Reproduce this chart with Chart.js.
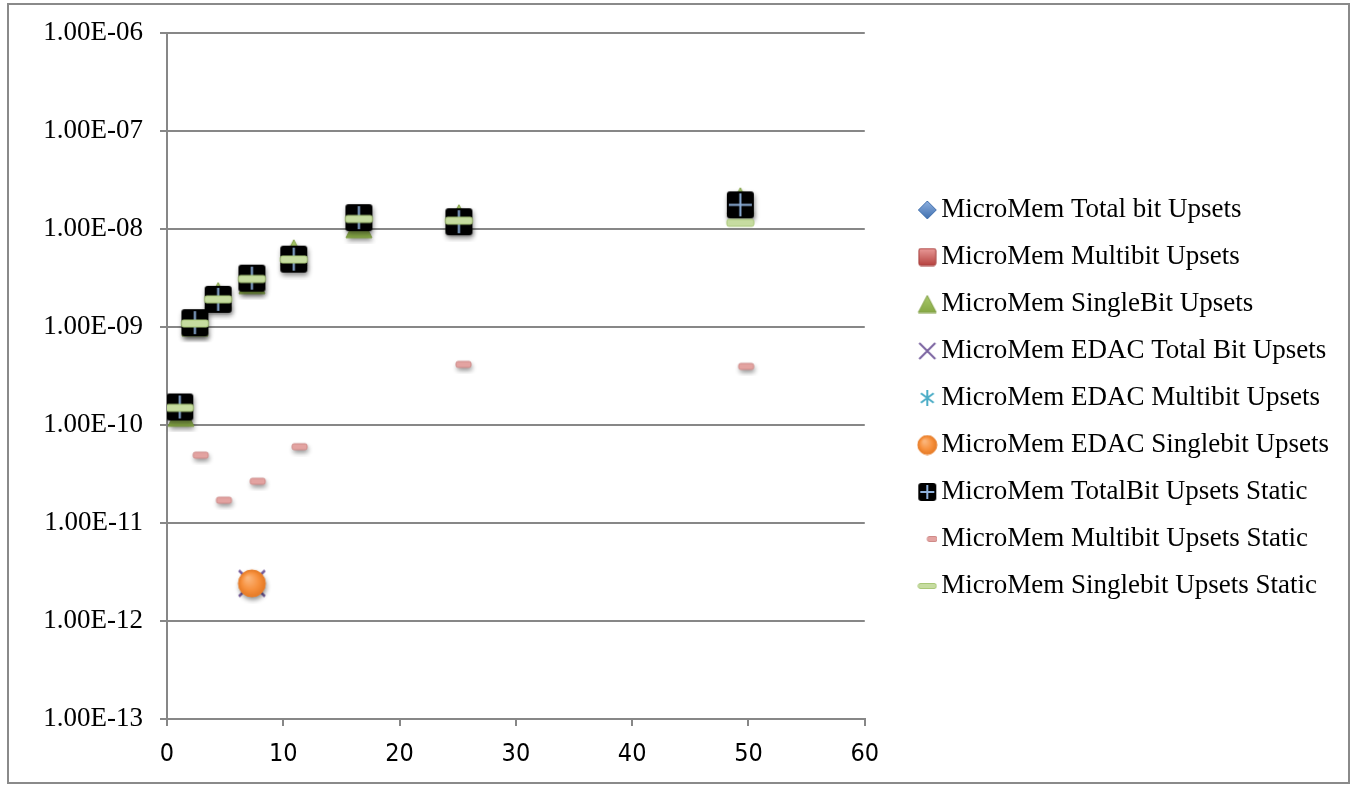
<!DOCTYPE html>
<html><head><meta charset="utf-8">
<script src="https://cdn.jsdelivr.net/npm/chart.js@4/dist/chart.umd.min.js"></script>
<style>html,body{margin:0;padding:0;background:#fff;}#wrap{width:1356px;height:786px;position:relative;}</style>
</head><body><div id="wrap"><canvas id="c" width="1356" height="786"></canvas></div>
<script>
// ---------- data ----------
const seriesNames = [
  'MicroMem Total bit Upsets',
  'MicroMem Multibit Upsets',
  'MicroMem SingleBit Upsets',
  'MicroMem EDAC Total Bit Upsets',
  'MicroMem EDAC Multibit Upsets',
  'MicroMem EDAC Singlebit Upsets',
  'MicroMem TotalBit Upsets Static',
  'MicroMem Multibit Upsets Static',
  'MicroMem Singlebit Upsets Static'
];
const totalX = [1.2, 2.4, 4.4, 7.3, 10.9, 16.5, 25.1, 49.3];
const totalY = [1.5e-10, 1.1e-9, 1.95e-9, 3.1e-9, 4.9e-9, 1.28e-8, 1.2e-8, 1.75e-8];
const multiX = [];
const multiY = [];
const singleX = [1.2, 2.4, 4.4, 7.3, 10.9, 16.5, 25.1, 49.3];
const singleY = [1.32e-10, 1.1e-9, 2.1e-9, 2.98e-9, 5.75e-9, 1.11e-8, 1.31e-8, 1.95e-8];
const edacTotalX = [7.3];
const edacTotalY = [2.42e-12];
const edacMultiX = [];
const edacMultiY = [];
const edacSingleX = [7.3];
const edacSingleY = [2.42e-12];
const totalStaticX = [1.1, 2.4, 4.4, 7.3, 10.9, 16.5, 25.1, 49.3];
const totalStaticY = [1.53e-10, 1.11e-9, 1.92e-9, 3.16e-9, 4.94e-9, 1.31e-8, 1.19e-8, 1.77e-8];
const multiStaticX = [2.9, 4.9, 7.8, 11.4, 25.5, 49.8];
const multiStaticY = [4.93e-11, 1.71e-11, 2.67e-11, 6.01e-11, 4.16e-10, 3.97e-10];
const singleStaticX = [1.1, 2.4, 4.4, 7.3, 10.9, 16.5, 25.1, 49.3];
const singleStaticY = [1.5e-10, 1.09e-9, 1.92e-9, 3.1e-9, 4.9e-9, 1.27e-8, 1.22e-8, 1.16e-8];
const xTicks = [0, 10, 20, 30, 40, 50, 60];
const yTickValues = [1e-13, 1e-12, 1e-11, 1e-10, 1e-9, 1e-8, 1e-7, 1e-6];
const yTickLabels = ['1.00E-13','1.00E-12','1.00E-11','1.00E-10','1.00E-09','1.00E-08','1.00E-07','1.00E-06'];

// ---------- marker images ----------
function mk(w, h, draw) { const c = document.createElement('canvas'); c.width = w; c.height = h; const g = c.getContext('2d'); draw(g, w, h); return c; }
function shadow(g) { g.shadowColor = 'rgba(0,0,0,0.45)'; g.shadowBlur = 5; g.shadowOffsetX = 1; g.shadowOffsetY = 3; }
function noShadow(g) { g.shadowColor = 'rgba(0,0,0,0)'; g.shadowBlur = 0; g.shadowOffsetX = 0; g.shadowOffsetY = 0; }
function rr(g, x, y, w, h, r) { g.beginPath(); g.moveTo(x + r, y); g.lineTo(x + w - r, y); g.quadraticCurveTo(x + w, y, x + w, y + r); g.lineTo(x + w, y + h - r); g.quadraticCurveTo(x + w, y + h, x + w - r, y + h); g.lineTo(x + r, y + h); g.quadraticCurveTo(x, y + h, x, y + h - r); g.lineTo(x, y + r); g.quadraticCurveTo(x, y, x + r, y); g.closePath(); }
function vgrad(g, y0, y1, c0, c1) { const gr = g.createLinearGradient(0, y0, 0, y1); gr.addColorStop(0, c0); gr.addColorStop(1, c1); return gr; }

function diamond(s, pad, sh) { return mk(s + 2 * pad, s + 2 * pad, (g, w, h) => { if (sh) shadow(g); const c = w / 2; g.beginPath(); g.moveTo(c, pad); g.lineTo(w - pad, c); g.lineTo(c, h - pad); g.lineTo(pad, c); g.closePath(); g.fillStyle = vgrad(g, pad, h - pad, '#8eb0e0', '#3f6fae'); g.fill(); noShadow(g); g.strokeStyle = '#4a76b0'; g.lineWidth = 1; g.stroke(); }); }
function redSquare(s, pad) { return mk(s + 2 * pad, s + 2 * pad, (g, w, h) => { rr(g, pad, pad, s, s, 2); g.fillStyle = vgrad(g, pad, pad + s, '#e99a98', '#b5413e'); g.fill(); g.strokeStyle = '#a33d3a'; g.lineWidth = 1; g.stroke(); }); }
function triangle(s, hgt, pad, sh) { return mk(s + 2 * pad, hgt + 2 * pad, (g, w, h) => { if (sh) shadow(g); g.beginPath(); g.moveTo(w / 2, pad); g.lineTo(w - pad, h - pad); g.lineTo(pad, h - pad); g.closePath(); g.fillStyle = vgrad(g, pad, h - pad, '#a9c96a', '#86a845'); g.fill(); noShadow(g); g.strokeStyle = '#7f9e42'; g.lineWidth = 1; g.stroke(); }); }
function xMark(s, pad, lw) { return mk(s + 2 * pad, s + 2 * pad, (g, w, h) => { g.strokeStyle = '#7a62a0'; g.lineWidth = lw; g.beginPath(); g.moveTo(pad, pad); g.lineTo(w - pad, h - pad); g.moveTo(w - pad, pad); g.lineTo(pad, h - pad); g.stroke(); }); }
function star(s, pad) { return mk(s + 2 * pad, s + 2 * pad, (g, w, h) => { g.strokeStyle = '#4bacc6'; g.lineWidth = 2; const c = w / 2, r = s / 2; g.beginPath(); g.moveTo(c, c - r); g.lineTo(c, c + r); g.moveTo(c - r * 0.8, c - r * 0.6); g.lineTo(c + r * 0.8, c + r * 0.6); g.moveTo(c + r * 0.8, c - r * 0.6); g.lineTo(c - r * 0.8, c + r * 0.6); g.stroke(); }); }
function circle(s, pad, sh) { return mk(s + 2 * pad, s + 2 * pad, (g, w, h) => { const c = w / 2, r = s / 2; if (sh) shadow(g); g.beginPath(); g.arc(c, c, r, 0, Math.PI * 2); const gr = g.createRadialGradient(c - r * 0.3, c - r * 0.4, 1, c, c, r); gr.addColorStop(0, '#fbb57a'); gr.addColorStop(0.6, '#f7913e'); gr.addColorStop(1, '#e57a25'); g.fillStyle = gr; g.fill(); noShadow(g); g.strokeStyle = '#e8802e'; g.lineWidth = 1; g.stroke(); }); }
function blackSquare(s, pad, sh) { return mk(s + 2 * pad, s + 2 * pad, (g, w, h) => { if (sh) shadow(g); rr(g, pad, pad, s, s, 3); g.fillStyle = '#000'; g.fill(); noShadow(g); g.strokeStyle = '#8fb1dc'; g.lineWidth = 2; const c = w / 2; g.beginPath(); g.moveTo(c, pad + 2); g.lineTo(c, h - pad - 2); g.moveTo(pad + 2, c); g.lineTo(w - pad - 2, c); g.stroke(); }); }
function dash(wd, ht, fill, edge, cw, ch, offX, sh) { return mk(cw, ch, (g, w, h) => { if (sh) shadow(g); const x = offX, y = (h - ht) / 2; rr(g, x, y, wd, ht, 2); g.fillStyle = fill; g.fill(); noShadow(g); g.strokeStyle = edge; g.lineWidth = 1; g.stroke(); }); }

const dataStyles = [
  diamond(24, 4, false),
  redSquare(24, 4),
  triangle(26, 26, 6, true),
  xMark(26, 3, 2.5),
  star(24, 3),
  circle(27, 7, true),
  blackSquare(27, 7, true),
  dash(15, 6, '#e3a3a1', '#cf8a88', 29, 20, 7, true),
  dash(27, 7, '#c6dca0', '#a9c778', 41, 21, 7, false)
];
const legendStyles = [
  diamond(18, 1, false),
  redSquare(17, 1),
  triangle(18, 17, 1, false),
  xMark(16, 2, 2),
  star(16, 2),
  circle(19, 1, false),
  blackSquare(18, 1, false),
  dash(10, 5, '#e3a3a1', '#cf8a88', 20, 8, 10, false),
  dash(18, 5, '#c6dca0', '#a9c778', 20, 8, 1, false)
];

const xs = [totalX, multiX, singleX, edacTotalX, edacMultiX, edacSingleX, totalStaticX, multiStaticX, singleStaticX];
const ys = [totalY, multiY, singleY, edacTotalY, edacMultiY, edacSingleY, totalStaticY, multiStaticY, singleStaticY];

const datasets = seriesNames.map((name, i) => ({
  label: name,
  data: xs[i].map((x, j) => ({ x: x, y: ys[i][j] })),
  pointStyle: dataStyles[i],
  pointRadius: 14,
  pointHoverRadius: 14,
  showLine: false,
  order: seriesNames.length - i,
  backgroundColor: 'transparent',
  borderColor: 'transparent'
}));

const frame = {
  id: 'frame',
  beforeDraw(chart) {
    const g = chart.ctx; g.save(); g.fillStyle = '#fff'; g.fillRect(0, 0, chart.width, chart.height);
    g.strokeStyle = '#8a8a8a'; g.lineWidth = 2; g.strokeRect(8, 4, 1341, 779); g.restore();
  }
};

const GRID = '#878787';
new Chart(document.getElementById('c'), {
  type: 'scatter',
  data: { datasets: datasets },
  plugins: [frame],
  options: {
    responsive: false,
    animation: false,
    devicePixelRatio: 1,
    layout: { padding: { left: 0, right: 17, top: 32, bottom: 22 } },
    plugins: {
      tooltip: { enabled: false },
      legend: {
        position: 'right',
        align: 'center',
        maxWidth: 600,
        labels: {
          usePointStyle: true,
          boxWidth: 1,
          padding: 20,
          color: '#000',
          font: { family: "'Liberation Serif', 'DejaVu Serif', serif", size: 27 },
          sort: (a, b) => a.datasetIndex - b.datasetIndex,
          generateLabels(chart) {
            const items = Chart.defaults.plugins.legend.labels.generateLabels(chart);
            items.forEach(it => { it.pointStyle = legendStyles[it.datasetIndex]; it.fontColor = '#000'; it.strokeStyle = 'transparent'; it.fillStyle = 'transparent'; });
            return items;
          }
        }
      }
    },
    scales: {
      x: {
        type: 'linear', min: 0, max: 60,
        afterBuildTicks(s) { s.ticks = xTicks.map(v => ({ value: v })); },
        afterFit(s) { s.height = 45; },
        grid: { display: true, drawOnChartArea: false, drawTicks: true, tickLength: 7, color: GRID, lineWidth: 2 },
        border: { display: true, color: GRID, width: 2 },
        ticks: { color: '#000', padding: 13, maxRotation: 0, font: { family: "'DejaVu Sans Condensed', 'Liberation Sans Narrow', 'Liberation Sans', sans-serif", size: 25 } }
      },
      y: {
        type: 'logarithmic', min: 1e-13, max: 1e-6,
        afterBuildTicks(s) { s.ticks = yTickValues.map(v => ({ value: v })); },
        afterFit(s) { s.width = 167; },
        grid: { display: true, drawTicks: true, tickLength: 7, color: GRID, lineWidth: 2 },
        border: { display: true, color: GRID, width: 2 },
        ticks: {
          color: '#000', padding: 17,
          font: { family: "'Liberation Serif', 'DejaVu Serif', serif", size: 27 },
          callback: (v, i) => yTickLabels[i]
        }
      },
      spacer: {
        type: 'linear', position: 'right', min: 0, max: 1, display: true,
        grid: { display: false }, border: { display: false }, ticks: { display: false },
        afterFit(s) { s.width = 42; }
      }
    }
  }
});
</script></body></html>
